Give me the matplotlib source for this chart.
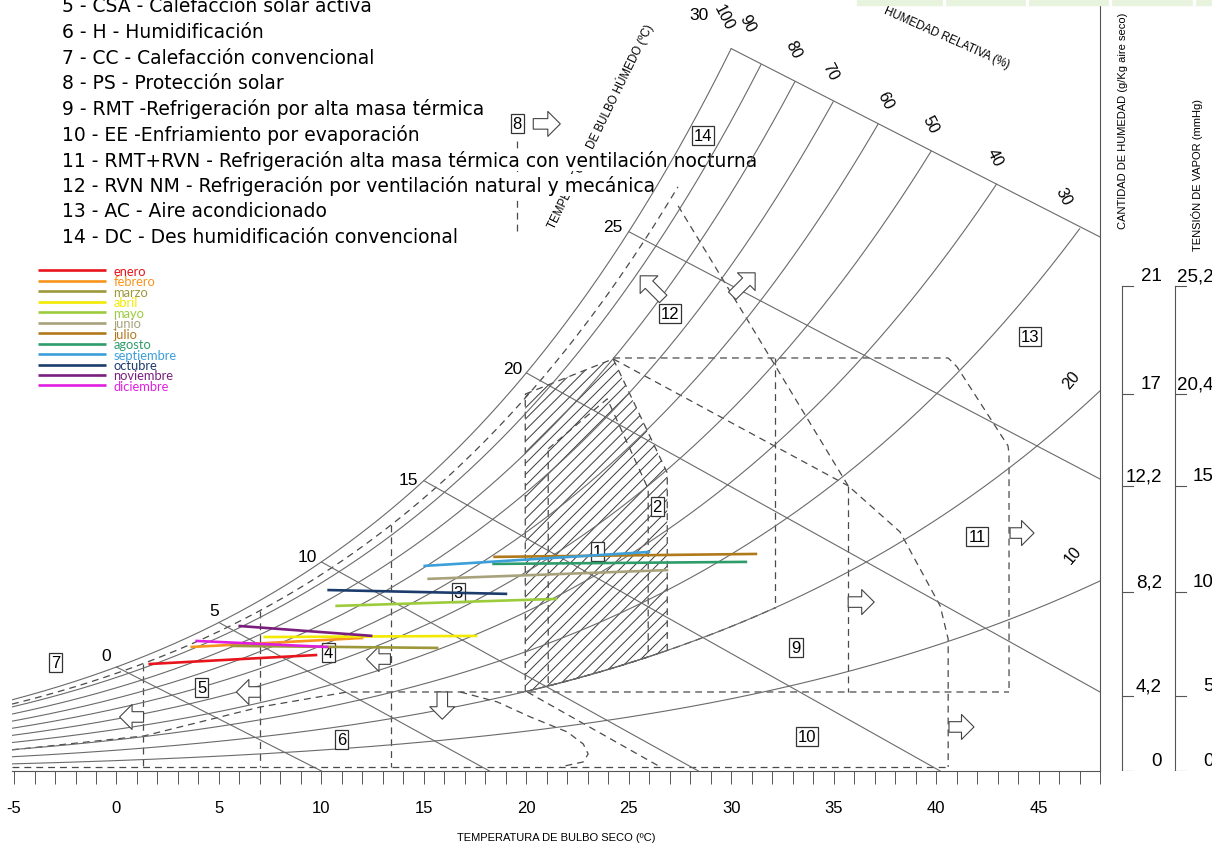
import numpy as np
import matplotlib
matplotlib.use("Agg")
import matplotlib.pyplot as plt
from matplotlib.patches import Polygon, Rectangle

ARIAL = ['Liberation Sans', 'DejaVu Sans']
GRID = '#6a6a6a'
DASH = '#4a4a4a'
plt.rcParams['axes.unicode_minus'] = False
plt.rcParams['hatch.linewidth'] = 0.7

# ---- data (T = dry bulb ºC, e = vapour pressure mmHg) ----
rh_levels = [10, 20, 30, 40, 50, 60, 70, 80, 90, 100]
rh_label_t = [46.68, 46.59, 46.2, 42.88, 39.71, 37.51, 34.83, 33.02, 30.78, 29.66]
rh_label_e = [9.56, 17.27, 25.33, 27.05, 28.5, 29.56, 30.84, 31.81, 32.95, 33.22]
rh_label_rot = [50, 50, -63, -63, -63, -63, -63, -63, -63, -63]

wb_values = [0, 5, 10, 15, 20, 25, 30]
wb_end_t = [10.0, 18.2, 28.4, 40.2, 48.0, 48.0, 48.0]
wb_end_e = [0.0, 0.0, 0.0, 0.0, 3.48, 12.86, 23.52]
wb_label_t = [-0.49, 4.78, 9.32, 14.24, 19.32, 24.2, 28.45]
wb_label_e = [5.07, 7.05, 9.43, 12.86, 17.71, 23.96, 33.3]

months = ['enero', 'febrero', 'marzo', 'abril', 'mayo', 'junio', 'julio',
          'agosto', 'septiembre', 'octubre', 'noviembre', 'diciembre']
month_colors = ['#e8141c', '#f7941d', '#9c983a', '#f2ea00', '#9ccc3c', '#a8a27c',
                '#b07a1c', '#2e9c6a', '#3c9fda', '#1c3c6c', '#7a1e7e', '#e01ee0']
month_t0 = [1.56, 3.61, 5.56, 7.17, 10.68, 15.17, 18.39, 18.34, 14.98, 10.29, 5.95, 3.85]
month_t1 = [9.80, 12.05, 15.71, 17.61, 21.51, 26.93, 31.27, 30.78, 26.05, 19.07, 12.49, 10.34]
month_e0 = [4.71, 5.46, 5.51, 5.90, 7.27, 8.46, 9.43, 9.12, 9.03, 7.97, 6.39, 5.73]
month_e1 = [5.11, 5.86, 5.42, 5.95, 7.58, 8.85, 9.56, 9.21, 9.65, 7.80, 5.95, 5.46]

# zone boundaries (dashed)
near_sat_rh = 94
near_sat_tmax = 27.4
split_t = [1.3, 7.0, 13.4]
floor_e = 0.18
rh_low = 20
rh_low_tmax = 32.15
zone2_t = [19.95, 24.24, 26.88, 26.88]
zone2_e = [16.6, 18.15, 13.13, 5.31]
zone1_t = [21.07, 23.95, 25.95, 25.95]
zone1_e = [14.19, 16.39, 12.42, 5.03]
wbdir_t = [24.24, 35.71]
wbdir_e = [18.15, 12.56]
zone9_vt = [32.15, 35.71]
zone9_top = [18.19, 12.56]
zone11_t = [24.24, 40.59, 41.02, 43.51, 43.56, 43.56]
zone11_e = [18.19, 18.19, 17.80, 14.32, 13.96, 3.48]
hum_t = [-5.1, 1.32, 7.02, 11.27, 43.56]
hum_e = [0.93, 1.54, 2.82, 3.48, 3.48]
zone6_t = [16.78, 18.59, 20.2, 22.0, 22.78, 23.02, 22.78, 21.66]
zone6_e = [3.48, 3.04, 2.38, 1.72, 1.19, 0.75, 0.40, 0.18]
zone10_t = [20.05, 26.54]
zone10_e = [3.48, 0.18]
vent_t = [27.41, 35.71, 38.24, 40.2, 40.59, 40.59]
vent_e = [24.89, 12.56, 10.53, 7.27, 5.81, 0.18]
ps8_t = [19.56, 19.56]
ps8_e = [23.79, 27.84]

box_labels = ['1', '2', '3', '4', '5', '6', '7', '8', '9', '10', '11', '12', '13', '14']
box_t = [23.46, 26.39, 16.68, 10.34, 4.15, 10.98, -2.98, 19.56, 33.17, 33.71, 42.0, 27.02, 44.59, 28.63]
box_e = [9.65, 11.67, 7.84, 5.2, 3.66, 1.37, 4.8, 28.5, 5.46, 1.54, 10.31, 20.13, 19.12, 27.97]

arrow_tail_t = [20.34, 26.68, 30.05, 35.71, 43.61, 40.63, 13.37, 7.02, 1.32, 15.9]
arrow_tail_e = [28.5, 20.79, 20.93, 7.44, 10.48, 1.94, 4.93, 3.48, 2.38, 3.48]
arrow_tip_t = [21.66, 25.56, 31.17, 36.98, 44.78, 41.85, 12.2, 5.85, 0.15, 15.9]
arrow_tip_e = [28.5, 21.81, 21.94, 7.44, 10.48, 1.94, 4.93, 3.48, 2.38, 2.28]

right_tick_e = [0, 3.30, 7.89, 12.56, 16.61, 21.37]
hum_labels = ['0', '4,2', '8,2', '12,2', '17', '21']
vap_labels = ['0', '5', '10', '15', '20,4', '25,2']

zone_texts = ['5 - CSA - Calefacción solar activa',
              '6 - H - Humidificación',
              '7 - CC - Calefacción convencional',
              '8 - PS - Protección solar',
              '9 - RMT -Refrigeración por alta masa térmica',
              '10 - EE -Enfriamiento por evaporación',
              '11 - RMT+RVN - Refrigeración alta masa térmica con ventilación nocturna',
              '12 - RVN NM - Refrigeración por ventilación natural y mecánica',
              '13 - AC - Aire acondicionado',
              '14 - DC - Des humidificación convencional']


def p_sat(t):
    return 4.58 * np.exp(17.27 * t / (t + 237.3))


def dashed(ax, t, e):
    ax.plot(t, e, color=DASH, lw=0.9, dashes=(5.5, 4), zorder=1.5)


fig = plt.figure(figsize=(12.12, 8.45), dpi=100)
ax = fig.add_axes([12 / 1212, 73 / 845, 1088 / 1212, 772 / 845])
ax.set_xlim(-5.1, 48.0)
ax.set_ylim(0, 34.0)

# relative humidity curves, cut at the 30 ºC wet bulb line
t_grid = np.linspace(-5.1, 48.0, 800)
e_top = np.interp(t_grid, [30, wb_end_t[-1]], [p_sat(30), wb_end_e[-1]])
for rh in rh_levels:
    e = rh / 100 * p_sat(t_grid)
    keep = (t_grid <= 30) | (e <= e_top)
    if rh == 100:
        keep = t_grid <= 30
    ax.plot(t_grid[keep], e[keep], color=GRID, lw=0.8, zorder=2)

# wet bulb lines
for wb, t1, e1 in zip(wb_values, wb_end_t, wb_end_e):
    ax.plot([wb, t1], [p_sat(wb), e1], color=GRID, lw=0.8, zorder=2)

for lbl, t, e, r in zip(rh_levels, rh_label_t, rh_label_e, rh_label_rot):
    ax.text(t, e, str(lbl), rotation=r, ha='center', va='center', fontsize=11.5,
            family=ARIAL, zorder=3)
for wb, t, e in zip(wb_values, wb_label_t, wb_label_e):
    ax.text(t, e, str(wb), ha='center', va='center', fontsize=12.5, family=ARIAL, zorder=3)

# zone boundaries
t_ns = np.linspace(-5.1, near_sat_tmax, 300)
dashed(ax, t_ns, near_sat_rh / 100 * p_sat(t_ns))
for t in split_t:
    dashed(ax, [t, t], [near_sat_rh / 100 * p_sat(t), floor_e])
dashed(ax, [-5.1, vent_t[-1]], [floor_e, floor_e])

t_low = np.linspace(zone2_t[0], rh_low_tmax, 100)
dashed(ax, t_low, rh_low / 100 * p_sat(t_low))

b2 = np.linspace(zone2_t[-1], zone2_t[0], 60)
poly2 = np.column_stack([np.r_[zone2_t, b2], np.r_[zone2_e, rh_low / 100 * p_sat(b2)]])
ax.add_patch(Polygon(poly2, closed=True, fill=False, hatch='///', edgecolor='#3a3a3a',
                     lw=0, zorder=1.2))
dashed(ax, np.r_[poly2[:, 0], poly2[0, 0]], np.r_[poly2[:, 1], poly2[0, 1]])

b1 = np.linspace(zone1_t[-1], zone1_t[0], 60)
dashed(ax, np.r_[zone1_t, b1, zone1_t[0]],
       np.r_[zone1_e, rh_low / 100 * p_sat(b1), zone1_e[0]])

dashed(ax, wbdir_t, wbdir_e)
dashed(ax, [zone9_vt[0]] * 2, [zone9_top[0], rh_low / 100 * p_sat(zone9_vt[0])])
dashed(ax, [zone9_vt[1]] * 2, [zone9_top[1], hum_e[-1]])
dashed(ax, zone11_t, zone11_e)
dashed(ax, hum_t, hum_e)
dashed(ax, zone6_t, zone6_e)
dashed(ax, zone10_t, zone10_e)
dashed(ax, vent_t, vent_e)
dashed(ax, ps8_t, ps8_e)

# zone numbers and arrows
for lbl, t, e in zip(box_labels, box_t, box_e):
    ax.text(t, e, lbl, ha='center', va='center', fontsize=12, family=ARIAL, zorder=3.5,
            bbox=dict(boxstyle='square,pad=0.12', fc='white', ec='#333333', lw=0.9))
for t0, e0, t1, e1 in zip(arrow_tail_t, arrow_tail_e, arrow_tip_t, arrow_tip_e):
    ax.annotate('', xy=(t1, e1), xytext=(t0, e0), zorder=3.5,
                arrowprops=dict(arrowstyle='simple,head_length=0.45,head_width=0.9,tail_width=0.38',
                                fc='white', ec='#444444', lw=0.8, mutation_scale=20,
                                shrinkA=0, shrinkB=0))

# monthly lines
for m, c, t0, t1, e0, e1 in zip(months, month_colors, month_t0, month_t1, month_e0, month_e1):
    ax.plot([t0, t1], [e0, e1], color=c, lw=1.9, label=m, zorder=4, solid_capstyle='butt')

leg = ax.legend(loc='upper left', bbox_to_anchor=(38 / 1212, 1 - 266 / 845),
                bbox_transform=fig.transFigure, frameon=False, prop={'family': 'Lato', 'size': 9.3},
                handlelength=5.3, handletextpad=0.55, labelspacing=-0.12, borderpad=0,
                borderaxespad=0, labelcolor='linecolor')
leg.set_zorder(5)

# text block at top-left
for i, s in enumerate(zone_texts):
    ax.text(62 / 1212, 1 - (7 + 25.6 * i) / 845, s, transform=fig.transFigure,
            ha='left', va='center', fontsize=13.5, family='DejaVu Sans', zorder=1.8,
            bbox=dict(boxstyle='square,pad=0.05', fc='white', ec='none'))

ax.text(23.6, 28.45, 'TEMPERATURA DE BULBO HÚMEDO (ºC)', rotation=64, ha='center',
        va='center', fontsize=8.3, family=ARIAL, zorder=1.6)
ax.text(40.49, 32.33, 'HUMEDAD RELATIVA (%)', rotation=-24, ha='center', va='center',
        fontsize=8.3, family=ARIAL, zorder=3)

# axes styling
for s in ['top', 'left']:
    ax.spines[s].set_visible(False)
for s in ['bottom', 'right']:
    ax.spines[s].set_color('#555555')
    ax.spines[s].set_linewidth(0.8)
ax.set_xticks(range(-5, 50, 5))
ax.set_xticks(range(-5, 49), minor=True)
ax.set_yticks([])
ax.tick_params(axis='x', which='both', direction='out', length=9, width=0.7, color='#555555')
ax.tick_params(axis='x', which='major', pad=12, labelsize=12, labelfontfamily=ARIAL[0])
ax.set_xlabel('TEMPERATURA DE BULBO SECO (ºC)', fontsize=8, family=ARIAL, labelpad=12)

# right scales
axr = fig.add_axes([1100 / 1212, 73 / 845, 112 / 1212, 772 / 845])
axr.set_xlim(0, 112)
axr.set_ylim(0, 34.0)
axr.axis('off')
for x0, labels, xl in [(22, hum_labels, 62), (75, vap_labels, 114)]:
    axr.plot([x0, x0], [right_tick_e[0], right_tick_e[-1]], color='#555555', lw=0.8)
    for e, s in zip(right_tick_e, labels):
        axr.plot([x0, x0 + 11], [e, e], color='#555555', lw=0.8)
        axr.text(xl, e + 0.25, s, ha='right', va='baseline', fontsize=13.5, family=ARIAL)
axr.text(23, 28.7, 'CANTIDAD DE HUMEDAD (g/Kg aire seco)', rotation=90, ha='center',
         va='center', fontsize=8, family=ARIAL)
axr.text(97, 26.3, 'TENSIÓN DE VAPOR (mmHg)', rotation=90, ha='center', va='center',
         fontsize=8, family=ARIAL)

# light green strip cut at the top edge
fig.patches.append(Rectangle((857 / 1212, 1 - 6 / 845), 355 / 1212, 6 / 845,
                             transform=fig.transFigure, color='#e8f3de', zorder=10))
for xs in [943, 1026, 1109, 1193]:
    fig.patches.append(Rectangle((xs / 1212, 1 - 6 / 845), 2 / 1212, 6 / 845,
                                 transform=fig.transFigure, color='white', zorder=11))

fig.savefig('out.png', dpi=100)
